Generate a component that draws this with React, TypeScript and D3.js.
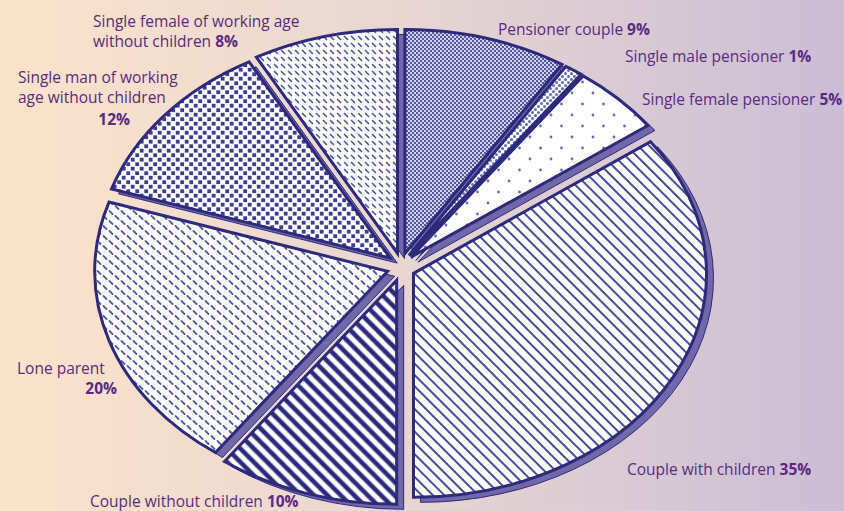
import React from "react";
import * as d3 from "d3";

const categories = [
  "Pensioner couple",
  "Single male pensioner",
  "Single female pensioner",
  "Couple with children",
  "Couple without children",
  "Lone parent",
  "Single man of working age without children",
  "Single female of working age without children",
];
const shares = [9, 1, 5, 35, 10, 20, 12, 8];
const shareLabels = ["9%", "1%", "5%", "35%", "10%", "20%", "12%", "8%"];

const W = 844;
const H = 511;
const NAVY = "#2d2a7c";
const TEXT = "#5a2a80";
const SHADOW = "#7068a8";

export default function App() {
  const cx = 401, cy = 267, rx = 293, ry = 224, explode = 14;
  const shX = 7, shY = 5;
  const arcs = d3.pie<number>().sort(null).value((d) => d)(shares);
  const pat = ["pc", "smp", "sfp", "cc", "cw", "lp", "sm", "sf"];

  const slicePath = (a0: number, a1: number, ox: number, oy: number) => {
    const px = (a: number) => cx + ox + rx * Math.sin(a);
    const py = (a: number) => cy + oy - ry * Math.cos(a);
    return `M${cx + ox},${cy + oy}L${px(a0)},${py(a0)}A${rx},${ry} 0 ${a1 - a0 > Math.PI ? 1 : 0} 1 ${px(a1)},${py(a1)}Z`;
  };
  const off = (a: any) => {
    const m = (a.startAngle + a.endAngle) / 2;
    return [explode * Math.sin(m), -explode * Math.cos(m)];
  };

  const font = "'Open Sans', sans-serif";
  const fs = 15.5;
  const label = (x: number, y: number, txt: string, pct: string, anchor = "start") => (
    <text x={x} y={y} fontFamily={font} fontSize={fs} fill={TEXT} textAnchor={anchor}>
      {txt}
      {pct && <tspan fontWeight="bold">{pct}</tspan>}
    </text>
  );

  return (
    <svg width={W} height={H} style={{ position: "absolute", left: 0, top: 0 }}>
      <defs>
        <linearGradient id="bg" x1="0" x2="1" y1="0" y2="0">
          <stop offset="0" stopColor="#fde3cb" />
          <stop offset="0.5" stopColor="#e6d5d2" />
          <stop offset="1" stopColor="#cbbdd6" />
        </linearGradient>
        <pattern id="pc" width="4" height="4" patternUnits="userSpaceOnUse">
          <rect width="4" height="4" fill="#d3d4ec" />
          <rect width="2" height="2" fill="#55549f" />
          <rect x="2" y="2" width="2" height="2" fill="#55549f" />
        </pattern>
        <pattern id="smp" width="6" height="6" patternUnits="userSpaceOnUse">
          <rect width="6" height="6" fill="#ffffff" />
          <circle cx="1.5" cy="1.5" r="1.5" fill="#6a6aae" />
          <circle cx="4.5" cy="4.5" r="1.5" fill="#6a6aae" />
        </pattern>
        <pattern id="sfp" width="21" height="22" patternUnits="userSpaceOnUse">
          <rect width="21" height="22" fill="#ffffff" />
          <circle cx="5" cy="5" r="1.4" fill="#6d6db2" />
          <circle cx="15.5" cy="16" r="1.4" fill="#6d6db2" />
        </pattern>
        <pattern id="cc" width="8" height="8" patternUnits="userSpaceOnUse" patternTransform="rotate(45)">
          <rect width="8" height="8" fill="#ffffff" />
          <line x1="0" y1="4" x2="8" y2="4" stroke="#4a4a9c" strokeWidth="2" />
        </pattern>
        <pattern id="cw" width="9.5" height="9.5" patternUnits="userSpaceOnUse" patternTransform="rotate(45)">
          <rect width="9.5" height="9.5" fill="#ffffff" />
          <line x1="0" y1="4.75" x2="9.5" y2="4.75" stroke={NAVY} strokeWidth="4.6" />
        </pattern>
        <pattern id="lp" width="12" height="10" patternUnits="userSpaceOnUse">
          <rect width="12" height="10" fill="#ffffff" />
          <line x1="1.5" y1="1" x2="4.5" y2="4" stroke="#5a5aa6" strokeWidth="1.8" strokeLinecap="round" />
          <line x1="7.5" y1="6" x2="10.5" y2="9" stroke="#5a5aa6" strokeWidth="1.8" strokeLinecap="round" />
        </pattern>
        <pattern id="sm" width="9" height="9" patternUnits="userSpaceOnUse">
          <rect width="9" height="9" fill="#ffffff" />
          <rect x="0.3" y="0.3" width="3.8" height="3.8" fill="#3e3c8e" />
          <rect x="4.8" y="4.8" width="3.8" height="3.8" fill="#3e3c8e" />
        </pattern>
        <pattern id="sf" width="7" height="7" patternUnits="userSpaceOnUse">
          <rect width="7" height="7" fill="#ffffff" />
          <line x1="1.5" y1="1.5" x2="4.5" y2="4.5" stroke="#5757a4" strokeWidth="1.7" strokeLinecap="round" />
        </pattern>
      </defs>
      <rect width={W} height={H} fill="url(#bg)" />
      <g>
        {arcs.map((a, i) => {
          const [ox, oy] = off(a);
          return (
            <path
              key={"s" + i}
              d={slicePath(a.startAngle, a.endAngle, ox + shX, oy + shY)}
              fill={SHADOW}
              stroke={NAVY}
              strokeWidth={1}
              strokeLinejoin="round"
            />
          );
        })}
        {arcs.map((a, i) => {
          const [ox, oy] = off(a);
          return (
            <path
              key={"p" + i}
              d={slicePath(a.startAngle, a.endAngle, ox, oy)}
              fill={`url(#${pat[i]})`}
              stroke={NAVY}
              strokeWidth={3}
              strokeLinejoin="miter"
            >
              <title>{categories[i]}</title>
            </path>
          );
        })}
      </g>
      {label(498, 35, "Pensioner couple ", shareLabels[0])}
      {label(625, 62, "Single male pensioner ", shareLabels[1])}
      {label(642, 105, "Single female pensioner ", shareLabels[2])}
      {label(627, 475, "Couple with children ", shareLabels[3])}
      {label(90, 507, "Couple without children ", shareLabels[4])}
      {label(17, 374, "Lone parent", "")}
      {label(117, 394, "", shareLabels[5], "end")}
      {label(18, 83, "Single man of working", "")}
      {label(18, 103, "age without children", "")}
      {label(130, 125, "", shareLabels[6], "end")}
      {label(93, 27, "Single female of working age", "")}
      {label(93, 47, "without children ", shareLabels[7])}
    </svg>
  );
}
